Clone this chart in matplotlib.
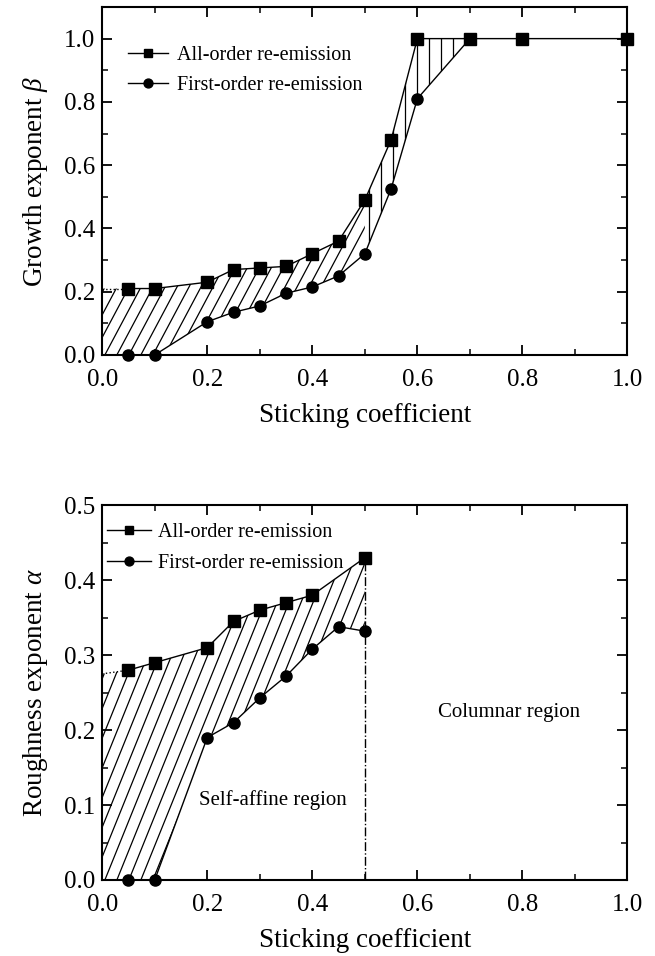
import numpy as np
import matplotlib
matplotlib.use("Agg")
import matplotlib.pyplot as plt
from matplotlib.ticker import MultipleLocator

plt.rcParams['font.family'] = ['Liberation Serif', 'DejaVu Serif']
plt.rcParams['mathtext.fontset'] = 'custom'
plt.rcParams['mathtext.it'] = 'Liberation Serif:italic'
plt.rcParams['mathtext.rm'] = 'Liberation Serif'

# Growth exponent beta (top panel)
beta_x_all = [0.05, 0.1, 0.2, 0.25, 0.3, 0.35, 0.4, 0.45, 0.5, 0.55, 0.6, 0.7, 0.8, 1.0]
beta_all = [0.21, 0.21, 0.23, 0.27, 0.275, 0.28, 0.32, 0.36, 0.49, 0.68, 1.0, 1.0, 1.0, 1.0]
beta_x_first = [0.05, 0.1, 0.2, 0.25, 0.3, 0.35, 0.4, 0.45, 0.5, 0.55, 0.6]
beta_first = [0.0, 0.0, 0.105, 0.135, 0.155, 0.195, 0.215, 0.25, 0.32, 0.525, 0.81]

# Roughness exponent alpha (bottom panel)
alpha_x_all = [0.05, 0.1, 0.2, 0.25, 0.3, 0.35, 0.4, 0.5]
alpha_all = [0.28, 0.29, 0.31, 0.345, 0.36, 0.37, 0.38, 0.43]
alpha_x_first = [0.05, 0.1, 0.2, 0.25, 0.3, 0.35, 0.4, 0.45, 0.5]
alpha_first = [0.0, 0.0, 0.19, 0.21, 0.243, 0.272, 0.308, 0.338, 0.332]
alpha_left_all = 0.275  # dotted extrapolation to s = 0


def hatch_region(ax, x, lo, hi, angle_deg, spacing_px=12):
    """Draw steep hatch lines clipped to the region between lo and hi."""
    poly = ax.fill_between(x, lo, hi, facecolor='none', edgecolor='none')
    path = poly.get_paths()[0]
    bbox = ax.get_window_extent()
    w, h = bbox.width, bbox.height
    if angle_deg >= 89.9:
        dx = 0.0
    else:
        dx = (h / np.tan(np.radians(angle_deg))) / w
    step = spacing_px / w
    for x0 in np.arange(-1.0, 1.5, step):
        ln, = ax.plot([x0, x0 + dx], [0, 1], transform=ax.transAxes,
                      color='black', lw=0.9)
        ln.set_clip_path(path, ax.transData)


def style_axes(ax, ymajor, yminor):
    ax.set_xlim(0, 1.0)
    ax.xaxis.set_major_locator(MultipleLocator(0.2))
    ax.xaxis.set_minor_locator(MultipleLocator(0.1))
    ax.yaxis.set_major_locator(MultipleLocator(ymajor))
    ax.yaxis.set_minor_locator(MultipleLocator(yminor))
    ax.tick_params(which='both', direction='in', top=True, right=True, labelsize=18)
    ax.tick_params(axis='x', pad=10)
    ax.tick_params(axis='y', pad=5)
    ax.tick_params(which='major', length=7, width=1.3)
    ax.tick_params(which='minor', length=4, width=1.1)
    for sp in ax.spines.values():
        sp.set_linewidth(1.5)
    ax.set_xlabel('Sticking coefficient', fontsize=19.5, labelpad=9)


fig = plt.figure(figsize=(6.55, 9.56), dpi=100)
ax1 = fig.add_axes([0.156, 0.6287, 0.802, 0.364])
ax2 = fig.add_axes([0.156, 0.0795, 0.802, 0.392])

# ---- top panel ----
style_axes(ax1, 0.2, 0.1)
ax1.set_ylim(0, 1.1)
ax1.set_yticks([0.0, 0.2, 0.4, 0.6, 0.8, 1.0])

bx_all = np.array(beta_x_all)
b_all = np.array(beta_all)
bx_first = np.array(beta_x_first)
b_first = np.array(beta_first)

# hatched band between the two curves (slanted on the left, vertical on the right)
k = len(bx_first)
hx = np.r_[0.0, bx_all[:k + 1]]
hhi = np.r_[b_all[0], b_all[:k + 1]]
hlo = np.r_[0.0, b_first, b_all[k]]
left = hx <= 0.5
hatch_region(ax1, hx[left], hlo[left], hhi[left], 62)
right = hx >= 0.5
hatch_region(ax1, hx[right], hlo[right], hhi[right], 90)

ax1.plot([0, bx_all[0]], [b_all[0], b_all[0]], ':', color='black', lw=1)
ax1.plot([0, bx_first[0]], [0, 0], ':', color='black', lw=1)
ax1.plot(bx_all, b_all, '-s', color='black', lw=1, ms=8, clip_on=False,
         label='All-order re-emission')
ax1.plot(np.r_[bx_first, bx_all[k]], np.r_[b_first, b_all[k]], '-', color='black', lw=1)
ax1.plot(bx_first, b_first, 'o', color='black', ms=8, clip_on=False)
ax1.plot([], [], '-o', color='black', lw=1, ms=8, label='First-order re-emission')
ax1.set_ylabel(r'Growth exponent $\beta$', fontsize=19.5, labelpad=10)
ax1.legend(loc='upper left', bbox_to_anchor=(0.015, 0.94), frameon=False, fontsize=14.5,
           handlelength=2.0, handletextpad=0.4, labelspacing=0.55, markerscale=0.8)

# ---- bottom panel ----
style_axes(ax2, 0.1, 0.05)
ax2.set_ylim(0, 0.5)

ax_all = np.array(alpha_x_all)
a_all = np.array(alpha_all)
ax_first = np.array(alpha_x_first)
a_first = np.array(alpha_first)

hx2 = np.r_[0.0, ax_first]
hhi2 = np.r_[alpha_left_all, np.interp(ax_first, ax_all, a_all)]
hlo2 = np.r_[0.0, a_first]
hatch_region(ax2, hx2, hlo2, hhi2, 68)

ax2.plot([0, ax_all[0]], [alpha_left_all, a_all[0]], ':', color='black', lw=1)
ax2.plot([0, ax_first[0]], [0, 0], ':', color='black', lw=1)
ax2.plot(ax_all, a_all, '-s', color='black', lw=1, ms=8, clip_on=False,
         label='All-order re-emission')
ax2.plot(ax_first, a_first, '-o', color='black', lw=1, ms=8, clip_on=False,
         label='First-order re-emission')
ax2.plot([0.5, 0.5], [0, a_all[-1]], '-.', color='black', lw=1)
ax2.text(0.324, 0.107, 'Self-affine region', fontsize=15, ha='center', va='center')
ax2.text(0.775, 0.223, 'Columnar region', fontsize=15, ha='center', va='center')
ax2.set_ylabel(r'Roughness exponent $\alpha$', fontsize=19.5, labelpad=10)
ax2.legend(loc='upper left', bbox_to_anchor=(-0.025, 1.0), frameon=False, fontsize=14.5,
           handlelength=2.2, handletextpad=0.3, labelspacing=0.55, markerscale=0.8)

fig.savefig('out.png', dpi=100)
